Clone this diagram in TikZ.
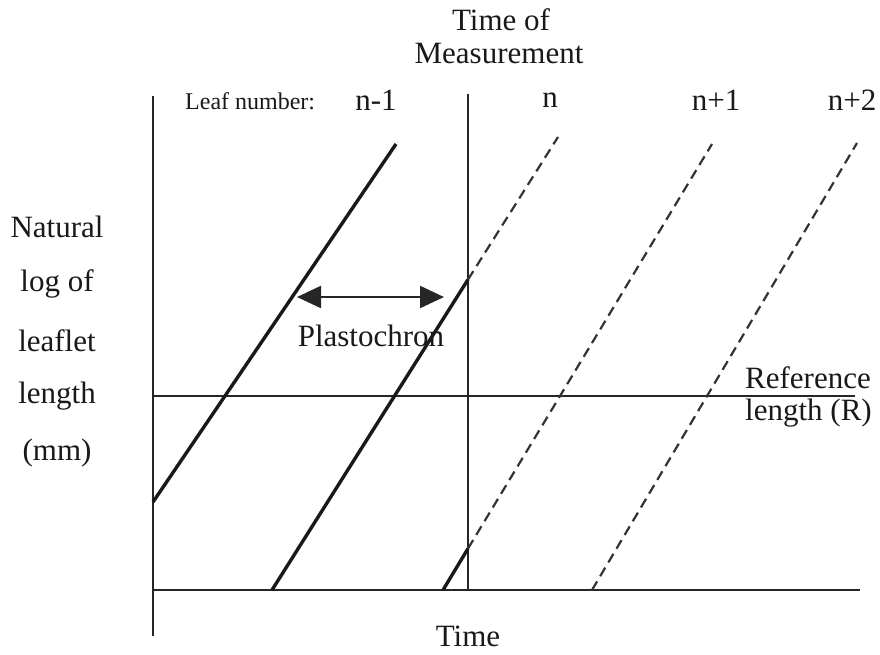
\documentclass[tikz,border=0pt]{standalone}
\usepackage{fontspec}
\setmainfont{Liberation Serif}
\usetikzlibrary{arrows.meta,calc}
\begin{document}
\begin{tikzpicture}[x=1pt,y=-1pt,
  lbl/.style={font=\fontsize{31}{36}\selectfont, inner sep=0pt, text=black!90},
  small/.style={font=\fontsize{24}{28}\selectfont, inner sep=0pt, text=black!90},
  axis/.style={line width=2.3pt, draw=black!85},
  thin/.style={line width=2pt, draw=black!85},
  leaf/.style={line width=3.4pt, draw=black!90},
  future/.style={line width=2.2pt, draw=black!80, dash pattern=on 10pt off 6pt},
]
\useasboundingbox (0,0) rectangle (880,654);
% axes and reference lines
\coordinate (ytop) at (153,96);
\coordinate (ybot) at (153,636);
\coordinate (x0) at (153,590);
\coordinate (xend) at (860,590);
\coordinate (mtop) at (468,94);
\coordinate (mbot) at (468,590);
\coordinate (r0) at (153,396);
\coordinate (rend) at (855,396);
\draw[axis] (ytop) -- (ybot);
\draw[axis] (x0) -- (xend);
\draw[thin] (mtop) -- (mbot);
\draw[thin] (r0) -- (rend);
% leaf lines
\coordinate (a0) at (153,502);
\coordinate (a1) at (396,144);
\draw[leaf] (a0) -- (a1);
\coordinate (b0) at (272,590);
\coordinate (b1) at (558,137);
\coordinate (bm) at ($(b0)!0.6853!(b1)$);
\draw[leaf] (b0) -- (bm);
\draw[future] (bm) -- (b1);
\coordinate (c0) at (443,590);
\coordinate (c1) at (712,144);
\coordinate (cm) at ($(c0)!0.0929!(c1)$);
\draw[leaf] (c0) -- (cm);
\draw[future] (cm) -- (c1);
\coordinate (d0) at (592,590);
\coordinate (d1) at (857,143);
\draw[future] (d0) -- (d1);
% plastochron arrow
\coordinate (p0) at (297,297);
\coordinate (p1) at (444,297);
\draw[line width=2.2pt, draw=black!85, {Triangle[length=24pt,width=22pt]}-{Triangle[length=24pt,width=22pt]}] (p0) -- (p1);
% labels
\node[lbl] (tm1) at (501,20) {Time of};
\node[lbl] (tm2) at (499,53) {Measurement};
\node[small, anchor=west] (ln) at (185,101) {Leaf number:};
\node[lbl] (n0) at (376,100) {n-1};
\node[lbl] (n1) at (550,100) {n};
\node[lbl] (n2) at (716,100) {n+1};
\node[lbl] (n3) at (852,100) {n+2};
\node[lbl] (y1) at (57,227) {Natural};
\node[lbl] (y2) at (57,284) {log of};
\node[lbl] (y3) at (57,341) {leaflet};
\node[lbl] (y4) at (57,396) {length};
\node[lbl] (y5) at (57,453) {(mm)};
\node[lbl] (pl) at (371,336) {Plastochron};
\node[lbl, anchor=west] (rf1) at (745,378) {Reference};
\node[lbl, anchor=west] (rf2) at (745,413) {length (R)};
\node[lbl] (tx) at (468,636) {Time};
\end{tikzpicture}
\end{document}
